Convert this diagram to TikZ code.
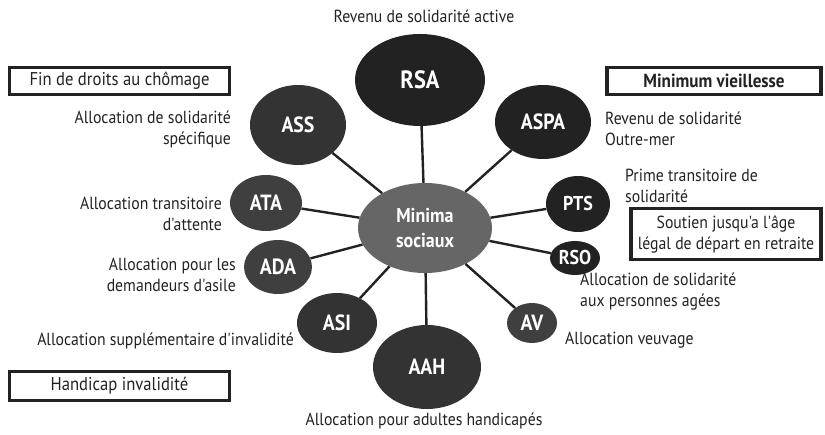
\documentclass[tikz,border=0pt]{standalone}
\usepackage{fontspec}
\setmainfont{PT Sans}
\newfontfamily\narrowfont[FakeStretch=0.9]{PT Sans}
\usetikzlibrary{shapes.geometric, positioning}

\definecolor{inkA}{HTML}{222222}
\definecolor{inkB}{HTML}{333333}
\definecolor{inkC}{HTML}{3F3F3F}
\definecolor{inkMid}{HTML}{666666}

\tikzset{
  bubble/.style={ellipse, fill=#1, text=white, inner sep=0pt,
    font=\narrowfont\bfseries\fontsize{22}{22}\selectfont},
  dims/.style 2 args={minimum width=#1, minimum height=#2},
  note/.style={text=inkA, inner sep=0pt, font=\narrowfont\fontsize{17.5}{21}\selectfont},
  frame/.style={draw=inkA, line width=3.2pt, inner sep=0pt, text=inkA,
    font=\narrowfont\fontsize{18.5}{21}\selectfont},
  spoke/.style={draw=inkA, line width=2.4pt}
}

\begin{document}
\begin{tikzpicture}[x=1pt, y=-1pt]
        \useasboundingbox (0,0) rectangle (825,435);
        % centre
        \node[bubble=inkMid, dims={134}{90}, align=center,
              font=\narrowfont\bfseries\fontsize{20}{25}\selectfont] (mid) at (425,228) {Minima\\sociaux};
        % allocations
        \node[bubble=inkA, dims={130}{92}, font=\narrowfont\bfseries\fontsize{25}{25}\selectfont] (rsa) at (420,80) {RSA};
        \node[bubble=inkB, dims={96}{80}] (ass) at (298,125) {ASS};
        \node[bubble=inkA, dims={96}{74}] (aspa) at (543,122) {ASPA};
        \node[bubble=inkA, dims={64}{56}, font=\narrowfont\bfseries\fontsize{20}{20}\selectfont] (pts) at (578,204) {PTS};
        \node[bubble=inkA, dims={50}{34}, font=\narrowfont\bfseries\fontsize{20}{20}\selectfont] (rso) at (575,258) {RSO};
        \node[bubble=inkC, dims={50}{40}] (av) at (532,323) {AV};
        \node[bubble=inkB, dims={108}{84}] (aah) at (427,367) {AAH};
        \node[bubble=inkB, dims={80}{60}] (asi) at (337,323) {ASI};
        \node[bubble=inkC, dims={68}{54}] (ada) at (278,267) {ADA};
        \node[bubble=inkC, dims={72}{56}] (ata) at (266,203) {ATA};

        \path[spoke] (mid) edge (rsa) edge (ass) edge (aspa) edge (pts) edge (rso)
                           edge (av) edge (aah) edge (asi) edge (ada) edge (ata);

        % descriptions
        \node[note] (rsa_t) at (424,16) {Revenu de solidarité active};
        \node[note, anchor=east, align=right] (ass_t) at (231,129) {Allocation de solidarité\\spécifique};
        \node[note, anchor=west, align=left] (aspa_t) at (605,129) {Revenu de solidarité\\Outre-mer};
        \node[note, anchor=west, align=left] (pts_t) at (625,186) {Prime transitoire de\\solidarité};
        \node[note, anchor=west, align=left] (rso_t) at (580,292) {Allocation de solidarité\\aux personnes agées};
        \node[note, anchor=west] (av_t) at (565,340) {Allocation veuvage};
        \node[note, anchor=east, align=right] (ata_t) at (222,214) {Allocation transitoire\\d'attente};
        \node[note, anchor=east, align=right] (ada_t) at (236,275) {Allocation pour les\\demandeurs d'asile};
        \node[note, anchor=east] (asi_t) at (294,341) {Allocation supplémentaire d'invalidité};
        \node[note] (aah_t) at (424,421) {Allocation pour adultes handicapés};

        % categories
        \node[frame, dims={220}{27}] (chomage) at (119.5,81) {Fin de droits au chômage};
        \node[frame, dims={214}{27}, font=\narrowfont\bfseries\fontsize{19}{21}\selectfont] (vieil) at (714,81) {Minimum vieillesse};
        \node[frame, dims={190}{51}, align=center, font=\narrowfont\fontsize{17.5}{21}\selectfont] (retraite) at (726,234) {Soutien jusqu'a l'âge\\légal de départ en retraite};
        \node[frame, dims={220}{29}] (handicap) at (119.5,386) {Handicap invalidité};
\end{tikzpicture}
\end{document}
